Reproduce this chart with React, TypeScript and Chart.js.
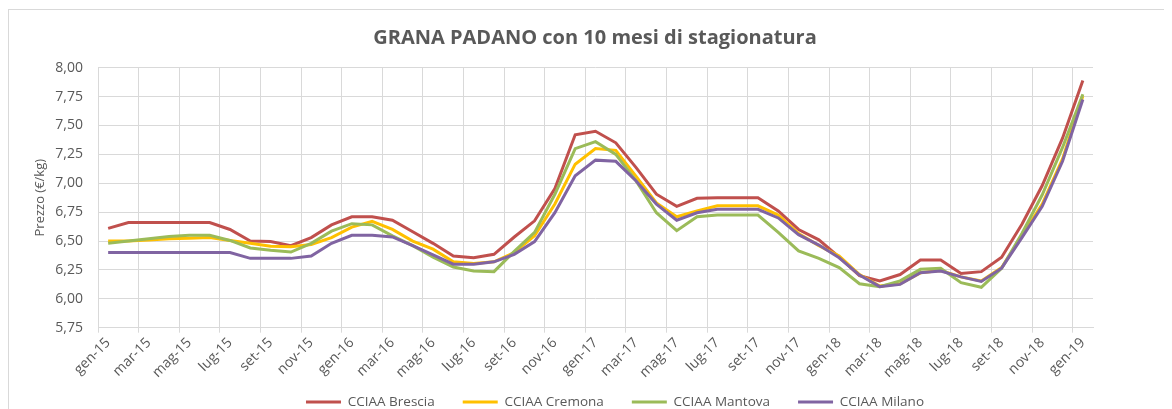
import React, { useEffect, useRef } from "react";
import { Chart, registerables } from "chart.js";

Chart.register(...registerables);

const months = ["gen", "feb", "mar", "apr", "mag", "giu", "lug", "ago", "set", "ott", "nov", "dic"];
const years = ["15", "16", "17", "18", "19"];
const categories: string[] = [];
for (const y of years) {
  for (const m of months) {
    categories.push(`${m}-${y}`);
    if (y === "19") break;
  }
}

const brescia = [
  6.61, 6.66, 6.66, 6.66, 6.66, 6.66, 6.6, 6.5, 6.495, 6.46, 6.53, 6.64,
  6.71, 6.71, 6.68, 6.58, 6.48, 6.37, 6.355, 6.385, 6.535, 6.675, 6.955, 7.42,
  7.45, 7.35, 7.135, 6.905, 6.8, 6.87, 6.875, 6.875, 6.875, 6.76, 6.6, 6.51,
  6.36, 6.2, 6.155, 6.21, 6.335, 6.335, 6.22, 6.235, 6.36, 6.645, 6.98, 7.39,
  7.89,
];
const cremona = [
  6.5, 6.5, 6.51, 6.52, 6.525, 6.53, 6.505, 6.48, 6.455, 6.45, 6.47, 6.53,
  6.62, 6.67, 6.6, 6.5, 6.43, 6.32, 6.305, 6.32, 6.4, 6.545, 6.82, 7.165,
  7.3, 7.285, 7.06, 6.83, 6.71, 6.76, 6.805, 6.805, 6.805, 6.725, 6.565, 6.46,
  6.37, 6.21, 6.11, 6.13, 6.225, 6.245, 6.19, 6.155, 6.27, 6.545, 6.82, 7.21,
  7.755,
];
const mantova = [
  6.48, 6.5, 6.52, 6.54, 6.55, 6.55, 6.505, 6.44, 6.42, 6.405, 6.48, 6.585,
  6.65, 6.64, 6.545, 6.46, 6.36, 6.275, 6.24, 6.235, 6.41, 6.575, 6.905, 7.3,
  7.36, 7.25, 7.02, 6.745, 6.59, 6.71, 6.725, 6.725, 6.725, 6.575, 6.415, 6.35,
  6.27, 6.13, 6.105, 6.155, 6.255, 6.265, 6.14, 6.1, 6.265, 6.565, 6.9, 7.31,
  7.77,
];
const milano = [
  6.4, 6.4, 6.4, 6.4, 6.4, 6.4, 6.4, 6.35, 6.35, 6.35, 6.37, 6.48,
  6.55, 6.55, 6.535, 6.46, 6.38, 6.3, 6.3, 6.32, 6.385, 6.495, 6.745, 7.065,
  7.2, 7.19, 7.02, 6.82, 6.68, 6.745, 6.775, 6.775, 6.775, 6.7, 6.555, 6.465,
  6.355, 6.205, 6.105, 6.125, 6.225, 6.24, 6.19, 6.15, 6.265, 6.53, 6.8, 7.19,
  7.725,
];

const seriesNames = ["CCIAA Brescia", "CCIAA Cremona", "CCIAA Mantova", "CCIAA Milano"];
const seriesColors = ["#C0504D", "#FFC000", "#9BBB59", "#8064A2"];
const seriesData = [brescia, cremona, mantova, milano];

const yMin = 5.75;
const yMax = 8.0;
const yStep = 0.25;

const TEXT = "#595959";
const GRID = "#d9d9d9";
const FONT = "'Open Sans', sans-serif";

const W = 1163;
const H = 400;
const AREA_LEFT = 89;
const AREA_RIGHT = 1084;
const AREA_TOP = 57.7;
const AREA_BOTTOM = 317.7;
const TITLE_SIZE = 20;
const LEGEND_SIZE = 13.5;
const LEGEND_PAD = 28;
const LEGEND_Y = 392;
const LEGEND_CX = 606;
const TITLE_CX = 586;

const placePlugin = {
  id: "placeBlocks",
  afterLayout(chart: any) {
    const lg = chart.legend;
    if (lg) {
      const h = lg.bottom - lg.top;
      lg.top = LEGEND_Y - LEGEND_PAD - LEGEND_SIZE / 2;
      lg.bottom = lg.top + h;
      const dx = LEGEND_CX - (lg.left + lg.right) / 2;
      lg.left += dx;
      lg.right += dx;
    }
    const tb = chart.titleBlock;
    if (tb) {
      const dx = TITLE_CX - (tb.left + tb.right) / 2;
      tb.left += dx;
      tb.right += dx;
    }
    const xs = chart.scales.x;
    if (xs) xs.bottom = H;
  },
};

export default function App() {
  const ref = useRef<HTMLCanvasElement | null>(null);
  useEffect(() => {
    document.documentElement.style.overflow = "hidden";
    document.body.style.overflow = "hidden";
    const canvas = ref.current;
    if (!canvas) return;
    Chart.defaults.font.family = FONT;
    Chart.defaults.color = TEXT;
    const gridColor = (ctx: any) =>
      ctx.index !== undefined && ctx.index % 2 === 0 ? GRID : "rgba(0,0,0,0)";
    const chart = new Chart(canvas, {
      type: "line",
      data: {
        labels: categories,
        datasets: seriesData.map((d, i) => ({
          label: seriesNames[i],
          data: d,
          borderColor: seriesColors[i],
          backgroundColor: seriesColors[i],
          borderWidth: 3,
          pointRadius: 0,
          pointHoverRadius: 0,
          tension: 0,
          fill: false,
          order: seriesData.length - i,
        })),
      },
      options: {
        responsive: false,
        animation: false,
        layout: { padding: { left: 0, right: W - AREA_RIGHT, top: 0, bottom: 0 } },
        plugins: {
          tooltip: { enabled: false },
          title: {
            display: true,
            text: "GRANA PADANO con 10 mesi di stagionatura",
            color: TEXT,
            font: { size: TITLE_SIZE, weight: "bold", family: FONT },
            padding: { top: 16.5, bottom: AREA_TOP - 16.5 - TITLE_SIZE * 1.2 },
          },
          legend: {
            position: "bottom",
            labels: {
              boxWidth: 35,
              boxHeight: 3,
              padding: LEGEND_PAD,
              color: TEXT,
              font: { size: LEGEND_SIZE, family: FONT },
              generateLabels: (chart: any) =>
                chart.data.datasets.map((ds: any, i: number) => ({
                  text: ds.label,
                  fillStyle: ds.borderColor,
                  strokeStyle: ds.borderColor,
                  lineWidth: 0,
                  hidden: false,
                  datasetIndex: i,
                  fontColor: TEXT,
                })),
            },
          },
        },
        scales: {
          x: {
            type: "category",
            offset: true,
            grid: {
              offset: true,
              color: gridColor,
              tickColor: gridColor,
              tickLength: 5,
              lineWidth: 1,
            },
            border: { display: true, color: GRID, width: 1 },
            ticks: {
              autoSkip: false,
              maxRotation: 45,
              minRotation: 45,
              padding: 2,
              color: TEXT,
              font: { size: 14, family: FONT },
              callback: (_v: any, i: number) => (i % 2 === 0 ? categories[i] : ""),
            },
            afterFit: (scale: any) => {
              scale.height = H - AREA_BOTTOM - (LEGEND_SIZE + LEGEND_PAD + 10);
            },
          },
          y: {
            min: yMin,
            max: yMax,
            grid: { color: GRID, drawTicks: false, lineWidth: 1 },
            border: { display: false },
            ticks: {
              stepSize: yStep,
              padding: 15,
              color: TEXT,
              font: { size: 14, family: FONT },
              callback: (v: any) => Number(v).toFixed(2).replace(".", ","),
            },
            title: {
              display: true,
              text: "Prezzo (€/kg)",
              color: TEXT,
              font: { size: 13, family: FONT },
              padding: { top: 23, bottom: 0 },
            },
            afterFit: (scale: any) => {
              scale.width = AREA_LEFT;
            },
          },
        },
      },
      plugins: [placePlugin],
    });
    return () => chart.destroy();
  }, []);
  return (
    <div
      style={{
        width: W,
        height: H,
        borderTop: `1px solid ${GRID}`,
        borderLeft: `1px solid ${GRID}`,
        marginTop: 1,
        overflow: "hidden",
      }}
    >
      <canvas ref={ref} width={W} height={H} style={{ display: "block" }} />
    </div>
  );
}
